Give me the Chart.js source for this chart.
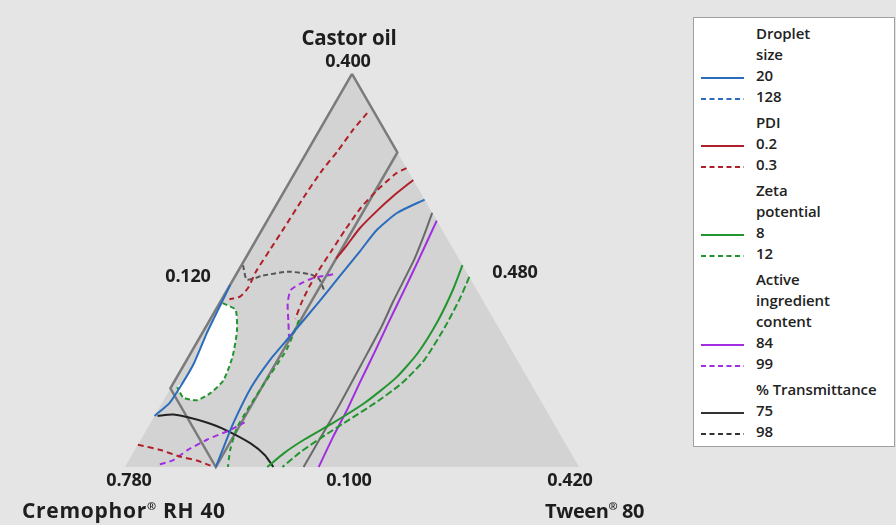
<!DOCTYPE html>
<html>
<head>
<meta charset="utf-8">
<script src="https://cdn.jsdelivr.net/npm/chart.js@4.4.1/dist/chart.umd.min.js"></script>
<style>
  html, body { margin: 0; padding: 0; background: #e5e5e5; }
  #wrap { position: relative; width: 896px; height: 525px; overflow: hidden;
          font-family: "Open Sans", sans-serif; color: #1e1e1e; }
  #plot { position: absolute; left: 0; top: 0; }
  .lbl { position: absolute; font-weight: 700; font-size: 18px; white-space: nowrap;
         transform: translate(-50%, -50%); letter-spacing: -0.2px; }
  .title { font-size: 20.5px; }
  .corner { font-size: 21px; transform: translate(0, -50%); }
  .corner sup { font-size: 11px; vertical-align: 8px; }
  .cremo { letter-spacing: 0.7px; }
  .tween { font-size: 20px; letter-spacing: -0.4px; }
  #legend { position: absolute; left: 693px; top: 17px; width: 202px; height: 430px;
            background: #fff; border: 1px solid #a0a0a0; box-sizing: border-box; }
  .lg { position: absolute; left: 62px; font-size: 15px; font-weight: 600; white-space: nowrap;
        transform: translateY(-50%); letter-spacing: -0.1px; color: #222; }
  .sw { position: absolute; left: 7px; width: 43px; height: 4px; }
</style>
</head>
<body>
<div id="wrap">
  <canvas id="plot" width="896" height="525"></canvas>
  <div id="legend"></div>
</div>
<script>
/* ternary overlaid contour plot — Castor oil / Cremophor RH 40 / Tween 80
   points are mixture proportions [castor, tween]; cremophor = 1 - castor - tween */

// component bounds (lower bounds + common range)
const LOW_CASTOR = 0.100;
const LOW_TWEEN = 0.120;
const RANGE = 0.300;

// design space
const triangle = [[0.400, 0.120], [0.100, 0.120], [0.100, 0.420]];
const regionBox = [[0.400, 0.120], [0.340, 0.180], [0.100, 0.180], [0.160, 0.120]];

// Droplet size 20
const size20a = [[0.304, 0.216], [0.294, 0.203], [0.281, 0.196], [0.265, 0.193], [0.245, 0.189],
  [0.225, 0.185], [0.199, 0.179], [0.182, 0.175], [0.161, 0.173], [0.132, 0.175], [0.113, 0.178], [0.100, 0.180]];
const size20b = [[0.139, 0.120], [0.149, 0.125], [0.164, 0.126], [0.179, 0.126], [0.202, 0.123],
  [0.214, 0.122], [0.227, 0.121], [0.239, 0.120]];

// PDI 0.2 / 0.3
const pdi02 = [[0.319, 0.201], [0.307, 0.194], [0.296, 0.189], [0.282, 0.184], [0.269, 0.182], [0.259, 0.180]];
const pdi03a = [[0.370, 0.145], [0.357, 0.142], [0.341, 0.140], [0.326, 0.137], [0.303, 0.135], [0.283, 0.134],
  [0.267, 0.133], [0.249, 0.132], [0.237, 0.133], [0.230, 0.131], [0.228, 0.125]];
const pdi03b = [[0.328, 0.192], [0.324, 0.187], [0.311, 0.181], [0.298, 0.177], [0.281, 0.175], [0.265, 0.174],
  [0.250, 0.173], [0.237, 0.173], [0.225, 0.174], [0.213, 0.176]];
const pdi03c = [[0.117, 0.120], [0.113, 0.137], [0.108, 0.152], [0.105, 0.165], [0.101, 0.176]];

// Zeta potential 8 / 12
const zeta8 = [[0.254, 0.266], [0.236, 0.269], [0.212, 0.271], [0.187, 0.270], [0.168, 0.265], [0.149, 0.254],
  [0.134, 0.241], [0.121, 0.228], [0.111, 0.220], [0.100, 0.214]];
const zeta12a = [[0.245, 0.275], [0.229, 0.277], [0.207, 0.278], [0.182, 0.277], [0.164, 0.271], [0.149, 0.261],
  [0.136, 0.250], [0.123, 0.239], [0.111, 0.230], [0.100, 0.224]];
const zeta12b = [[0.225, 0.122], [0.220, 0.133], [0.204, 0.142], [0.184, 0.149], [0.166, 0.152], [0.156, 0.148],
  [0.151, 0.142], [0.153, 0.132], [0.161, 0.124]];
const zeta12c = [[0.212, 0.179], [0.189, 0.182], [0.162, 0.180], [0.143, 0.179], [0.130, 0.179], [0.113, 0.183], [0.100, 0.188]];

// Active ingredient content 84 / 99
const active84 = [[0.288, 0.232], [0.258, 0.235], [0.235, 0.237], [0.210, 0.239], [0.189, 0.241], [0.164, 0.243],
  [0.143, 0.245], [0.123, 0.246], [0.100, 0.248]];
const active99a = [[0.247, 0.184], [0.244, 0.172], [0.240, 0.166], [0.235, 0.162], [0.225, 0.165], [0.210, 0.173], [0.195, 0.181]];
const active99b = [[0.102, 0.142], [0.105, 0.149], [0.113, 0.155], [0.121, 0.164], [0.128, 0.175], [0.134, 0.182]];

// % Transmittance 75 / 98
const trans75a = [[0.139, 0.122], [0.140, 0.132], [0.134, 0.157], [0.128, 0.173], [0.118, 0.194], [0.109, 0.208], [0.100, 0.218]];
const trans75b = [[0.294, 0.226], [0.278, 0.229], [0.258, 0.232], [0.227, 0.234], [0.207, 0.236], [0.179, 0.237],
  [0.147, 0.238], [0.123, 0.238], [0.100, 0.238]];
const trans98 = [[0.254, 0.121], [0.243, 0.129], [0.246, 0.138], [0.249, 0.153], [0.247, 0.169], [0.243, 0.177], [0.235, 0.184]];

// legend
const legendGroups = [
  { title: ['Droplet', 'size'], color: '#2c6cbc', levels: ['20', '128'] },
  { title: ['PDI'], color: '#b0202a', levels: ['0.2', '0.3'] },
  { title: ['Zeta', 'potential'], color: '#23952f', levels: ['8', '12'] },
  { title: ['Active', 'ingredient', 'content'], color: '#a12ee0', levels: ['84', '99'] },
  { title: ['% Transmittance'], color: '#333333', levels: ['75', '98'] },
];

const BLUE = '#2c6cbc', RED = '#b0202a', GREEN = '#23952f', PURPLE = '#a12ee0';
const DASH = [6, 4];

(() => {
  const SQ3 = Math.sqrt(3) / 2;
  const PX = 454;            // pixels per unit of the triangle side

  const toXY = ([castor, tween]) => {
    const a = (castor - LOW_CASTOR) / RANGE;
    const c = (tween - LOW_TWEEN) / RANGE;
    return { x: c + a / 2, y: a * SQ3 };
  };
  const pts = (arr) => arr.map(toXY);

  const curve = (data, color, dashed, extra) => Object.assign({
    data: pts(data), showLine: true, borderColor: color, borderWidth: 2,
    borderDash: dashed ? DASH : [], pointRadius: 0, tension: 0.2, fill: false, order: 1,
  }, extra || {});

  const whiteArea = zeta12b.concat(size20b.slice(2, 6));

  const datasets = [
    curve(size20a, BLUE, false),
    curve(size20b, BLUE, false),
    curve(pdi02, RED, false),
    curve(pdi03a, RED, true),
    curve(pdi03b, RED, true),
    curve(pdi03c, RED, true),
    curve(zeta8, GREEN, false),
    curve(zeta12a, GREEN, true, { borderDash: [7, 3] }),
    curve(zeta12b, GREEN, true, { borderDash: [5, 3] }),
    curve(zeta12c, GREEN, true, { borderDash: [5, 4] }),
    curve(active84, PURPLE, false),
    curve(active99a, PURPLE, true),
    curve(active99b, PURPLE, true),
    curve(trans75a, '#222222', false),
    curve(trans75b, '#6a6a6a', false),
    curve(trans98, '#555555', true, { borderDash: [5, 3] }),
    // design region outline
    { data: pts(regionBox.concat([regionBox[0]])), showLine: true, borderColor: '#7b7b7b', borderWidth: 2.5,
      pointRadius: 0, tension: 0, fill: false, order: 5 },
    // feasible (white) area
    { data: pts(whiteArea), showLine: true, borderWidth: 0, borderColor: 'rgba(0,0,0,0)',
      backgroundColor: '#ffffff', pointRadius: 0, tension: 0.3, fill: 'shape', order: 8 },
    // simplex
    { data: pts(triangle), showLine: true, borderWidth: 0, borderColor: 'rgba(0,0,0,0)',
      backgroundColor: '#d3d3d3', pointRadius: 0, tension: 0, fill: 'shape', order: 10 },
  ];

  new Chart(document.getElementById('plot'), {
    type: 'scatter',
    data: { datasets },
    options: {
      responsive: false, animation: false, events: [],
      layout: { padding: 0 },
      plugins: { legend: { display: false }, tooltip: { enabled: false } },
      scales: {
        x: { type: 'linear', display: false, min: -125 / PX, max: 771 / PX },
        y: { type: 'linear', display: false, min: -58 / PX, max: 467 / PX },
      },
    },
  });

  // axis labels
  const wrap = document.getElementById('wrap');
  const addLabel = (text, x, y, cls) => {
    const d = document.createElement('div');
    d.className = 'lbl' + (cls ? ' ' + cls : '');
    d.style.left = x + 'px';
    d.style.top = y + 'px';
    d.innerHTML = text;
    wrap.appendChild(d);
  };
  addLabel('Castor oil', 349, 37, 'title');
  addLabel('0.400', 348, 60);
  addLabel('0.120', 188, 275);
  addLabel('0.480', 515, 271);
  addLabel('0.780', 129, 479);
  addLabel('0.100', 349, 479);
  addLabel('0.420', 570, 479);
  addLabel('Cremophor<sup>®</sup> RH 40', 22, 510, 'corner cremo');
  addLabel('Tween<sup>®</sup> 80', 545, 510, 'corner tween');

  // legend box
  const lg = document.getElementById('legend');
  let y = 15;
  const STEP = 21;
  legendGroups.forEach((g) => {
    g.title.forEach((t) => {
      const d = document.createElement('div');
      d.className = 'lg';
      d.style.top = y + 'px';
      d.textContent = t;
      lg.appendChild(d);
      y += STEP;
    });
    g.levels.forEach((lv, i) => {
      const d = document.createElement('div');
      d.className = 'lg';
      d.style.top = y + 'px';
      d.textContent = lv;
      lg.appendChild(d);
      const sw = document.createElementNS('http://www.w3.org/2000/svg', 'svg');
      sw.setAttribute('class', 'sw');
      sw.style.top = (y + 1) + 'px';
      sw.innerHTML = `<line x1="0" y1="2" x2="43" y2="2" stroke="${g.color}" stroke-width="2"
        ${i === 1 ? 'stroke-dasharray="5,3.5"' : ''}/>`;
      lg.appendChild(sw);
      y += STEP;
    });
    y += 5;
  });
})();
</script>
</body>
</html>
